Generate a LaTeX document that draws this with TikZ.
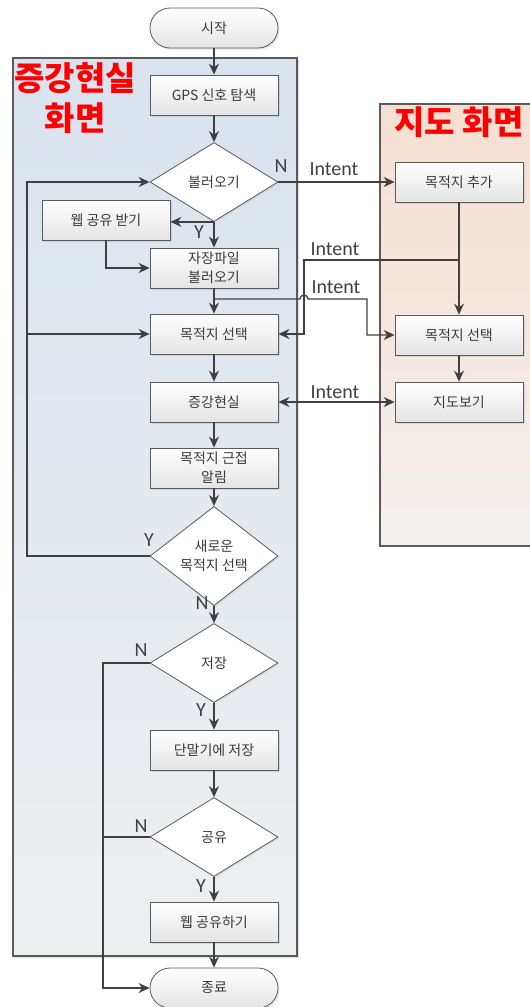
\documentclass[tikz,border=0pt]{standalone}
\usepackage{fontspec}
\setmainfont{Noto Sans CJK KR}
\newfontfamily\labfont{Carlito}
\usepackage{xcolor}
\usepackage{tikz}
\usetikzlibrary{arrows.meta, positioning, shapes.geometric, shadows}

\definecolor{lineg}{HTML}{404040}
\definecolor{boxg}{HTML}{5A5A5A}
\definecolor{txtg}{HTML}{3A3A3A}
\definecolor{boxbot}{HTML}{E4E4E4}
\definecolor{artop}{HTML}{D9E3EE}
\definecolor{arbot}{HTML}{EEEFF1}
\definecolor{maptop}{HTML}{F6DFD1}
\definecolor{mapbot}{HTML}{F3F0EE}

\begin{document}
\begin{tikzpicture}[
    x=1pt, y=-1pt,
    box/.style={draw=boxg, line width=0.8pt, minimum width=128pt,
                minimum height=40pt, inner sep=1pt, align=center,
                top color=white, bottom color=boxbot, text=txtg,
                font=\fontsize{14}{19}\selectfont,
                drop shadow={shadow xshift=1.5pt, shadow yshift=-1.5pt, opacity=0.2}},
    term/.style={box, rounded corners=20pt},
    dec/.style={diamond, draw=boxg, line width=0.8pt, fill=white,
                minimum width=128pt, minimum height=79pt, inner sep=0pt,
                align=center, text=txtg, font=\fontsize{14}{19}\selectfont,
                drop shadow={shadow xshift=1.5pt, shadow yshift=-1.5pt, opacity=0.15}},
    tip/.tip={Stealth[length=11pt, width=10pt]},
    arr/.style={draw=lineg, line width=1.3pt, -tip},
    lab/.style={font=\labfont\fontsize{20}{20}\selectfont, text=lineg, inner sep=0pt},
    ttl/.style={font=\bfseries\fontsize{33}{40}\selectfont, text=red, align=center}
  ]
  \useasboundingbox (0,0) rectangle (530,1007);

  % screens
  \shade[top color=artop, bottom color=arbot,
         drop shadow={shadow xshift=2pt, shadow yshift=-2pt, opacity=0.25}]
    (13,58) rectangle (297,956);
  \draw[boxg, line width=1.2pt] (13,58) rectangle (297,956);
  \shade[top color=maptop, bottom color=mapbot] (380,104) rectangle (531,546);
  \draw[boxg, line width=1.2pt] (531,104) -- (380,104) -- (380,546) -- (531,546);

  \node[ttl] (arttl) at (75,98) {증강현실\\화면};
  \node[ttl] (mapttl) at (459,122) {지도 화면};

  % AR screen
  \node[term] (start) at (214,28) {시작};
  \node[box] (gps) at (214,95) {GPS 신호 탐색};
  \node[dec] (load) at (214,182) {불러오기};
  \node[box] (webrecv) at (106,220) {웹 공유 받기};
  \node[box] (file) at (214,268) {자장파일\\불러오기};
  \node[box] (selL) at (214,334) {목적지 선택};
  \node[box] (ar) at (214,402) {증강현실};
  \node[box] (near) at (214,468) {목적지 근접\\알림};
  \node[dec] (newsel) at (214,556) {새로운\\목적지 선택};
  \node[dec] (save) at (214,663) {저장};
  \node[box] (savedev) at (214,750) {단말기에 저장};
  \node[dec] (share) at (214,837) {공유};
  \node[box] (webshare) at (214,922) {웹 공유하기};
  \node[term] (stop) at (214,988) {종료};

  % map screen
  \node[box] (addR) at (459,182) {목적지 추가};
  \node[box] (selR) at (459,335) {목적지 선택};
  \node[box] (mapv) at (459,402) {지도보기};

  % junctions
  \coordinate (lx) at (27,0);
  \coordinate (rx) at (103,0);
  \coordinate (jA) at (459,260);
  \coordinate (jB) at (304,260);
  \coordinate (jC) at (214,299);
  \coordinate (hop) at (300,299);
  \coordinate (jD) at (367,299);

  % main flow
  \draw[arr] (start) -- (gps);
  \draw[arr] (gps) -- (load);
  \draw[arr] (load) -- (file);
  \draw[arr] (load.south) -- (webrecv.east |- load.south);
  \draw[arr] (webrecv.south) |- (file.west);
  \draw[arr] (file) -- (selL);
  \draw[arr] (selL) -- (ar);
  \draw[arr] (ar) -- (near);
  \draw[arr] (near) -- (newsel);
  \draw[arr] (newsel) -- (save);
  \draw[arr] (save) -- (savedev);
  \draw[arr] (savedev) -- (share);
  \draw[arr] (share) -- (webshare);
  \draw[arr] (webshare) -- (stop);

  % loops back
  \draw[arr] (newsel.west) -- (newsel.west -| lx) |- (load.west);
  \draw[arr] (selL.west -| lx) -- (selL.west);
  \draw[arr] (save.west) -- (save.west -| rx) |- (stop.west);
  \draw[draw=lineg, line width=1.3pt] (share.west) -- (share.west -| rx);

  % intents
  \draw[arr] (load.east) -- (addR.west);
  \draw[arr] (addR) -- (selR);
  \draw[arr] (selR) -- (mapv);
  \draw[arr] (jA) -- (jB) |- (selL.east);
  \draw[arr] (jC) -- (hop) arc[start angle=180, end angle=0, radius=4pt]
    -- (jD) |- (selR.west);
  \draw[arr, tip-tip] (ar.east) -- (mapv.west);

  \node[lab] (i1) at (334,169) {Intent};
  \node[lab] (i2) at (335,249) {Intent};
  \node[lab] (i3) at (336,287) {Intent};
  \node[lab] (i4) at (335,392) {Intent};

  % branch labels
  \node[lab] (n1) at (281,166) {N};
  \node[lab] (y1) at (199,232) {Y};
  \node[lab] (y2) at (149,540) {Y};
  \node[lab] (n2) at (202,603) {N};
  \node[lab] (n3) at (141,650) {N};
  \node[lab] (y3) at (201,710) {Y};
  \node[lab] (n4) at (141,826) {N};
  \node[lab] (y4) at (201,886) {Y};
\end{tikzpicture}
\end{document}
